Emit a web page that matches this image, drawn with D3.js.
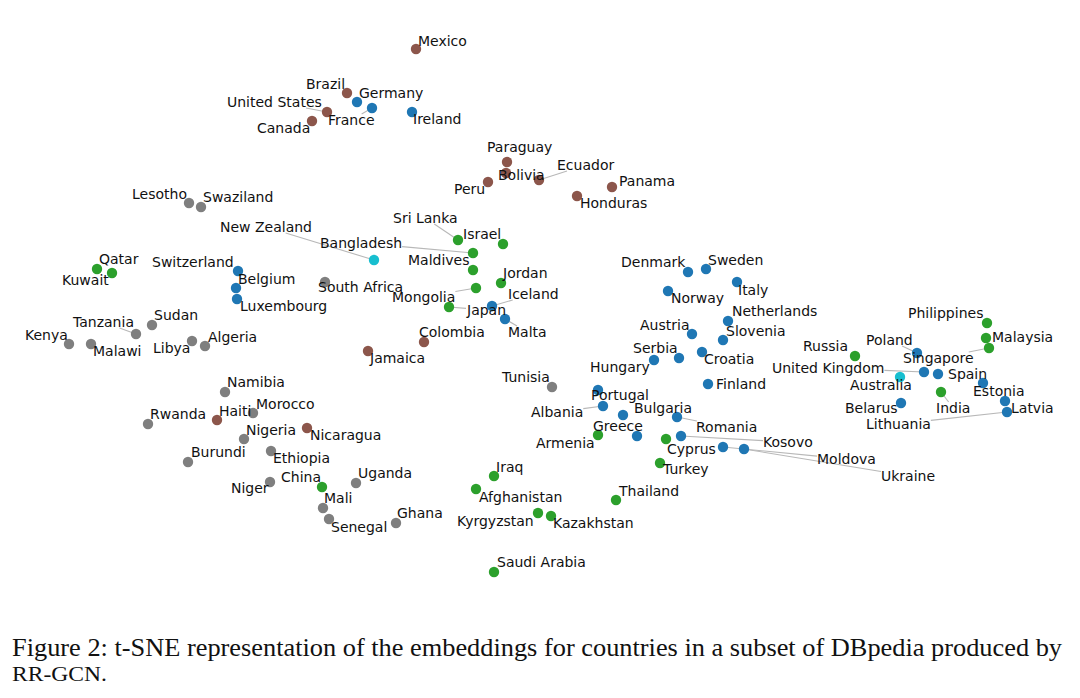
<!DOCTYPE html>
<html>
<head>
<meta charset="utf-8">
<script src="https://cdn.jsdelivr.net/npm/d3@7"></script>
<style>
  html, body { margin: 0; padding: 0; background: #fff; }
  svg { display: block; }
  .cap { font-family: "Liberation Serif", "Times New Roman", Times, serif; }
  .lbl { font-family: "DejaVu Sans", sans-serif; }
</style>
</head>
<body>
<svg id="chart" width="1080" height="698"></svg>
<script>
// ---- data: t-SNE embedding of countries ----
const countries = [
  // Americas
  "Mexico","Brazil","United States","Canada","Paraguay","Bolivia","Ecuador","Peru","Panama","Honduras","Colombia","Jamaica","Haiti","Nicaragua",
  // Europe
  "Germany","France","Ireland","Switzerland","Belgium","Luxembourg","Iceland","Malta","Denmark","Sweden","Norway","Italy","Netherlands","Austria","Slovenia","Serbia","Hungary","Croatia","Finland","Portugal","Albania","Bulgaria","Greece","Romania","Kosovo","Moldova","Ukraine","Poland","United Kingdom","Spain","Estonia","Latvia","Lithuania","Belarus",
  // Asia
  "Qatar","Kuwait","Sri Lanka","Israel","Bangladesh","Maldives","Jordan","Mongolia","Japan","China","Iraq","Afghanistan","Kyrgyzstan","Kazakhstan","Saudi Arabia","Thailand","Armenia","Cyprus","Turkey","Philippines","Malaysia","Singapore","Russia","India",
  // Africa
  "Lesotho","Swaziland","South Africa","Sudan","Tanzania","Kenya","Malawi","Libya","Algeria","Namibia","Morocco","Rwanda","Nigeria","Ethiopia","Burundi","Niger","Mali","Senegal","Uganda","Ghana","Tunisia",
  // Oceania
  "New Zealand","Australia"
];
const continents = [
  ...Array(14).fill("Americas"),
  ...Array(34).fill("Europe"),
  ...Array(24).fill("Asia"),
  ...Array(21).fill("Africa"),
  ...Array(2).fill("Oceania")
];
const tsneX = [
  416,347,327,312,507,506,539,488,612,577,424,368,217,307,
  357,372,412,238,236,237,492,505,688,706,668,737,728,692,723,679,654,702,708,598,603,623,637,677,681,723,744,917,924,938,983,1005,1007,901,
  112,97,458,503,473,473,501,476,449,322,494,476,538,551,494,616,598,666,660,987,986,989,855,941,
  189,201,325,152,136,69,91,192,205,225,253,148,244,271,188,270,323,329,356,396,552,
  374,900
];
const tsneY = [
  49,93,112,121,162,173,180,182,187,196,342,351,420,428,
  102,108,112,271,288,299,306,319,272,269,291,282,321,334,340,358,360,352,384,390,406,415,436,417,436,447,449,353,372,374,383,401,412,403,
  273,269,240,244,253,270,283,288,307,487,476,489,513,516,572,500,435,439,463,323,338,348,356,392,
  203,207,282,325,334,344,344,341,346,392,413,424,439,451,462,482,508,519,483,523,387,
  260,377
];
const captionLines = [
  "Figure 2: t-SNE representation of the embeddings for countries in a subset of DBpedia produced by",
  "RR-GCN."
];

// ---- layout (label placement relative to each point, as produced by label repulsion) ----
const labelOffsets = {
  "Mexico":[2,-3],"Brazil":[-41,-4],"United States":[-100,-5,1],"Canada":[-55,12],"Paraguay":[-20,-10],
  "Bolivia":[-8,7],"Ecuador":[18,-10,1],"Peru":[-34,12],"Panama":[7,-1],"Honduras":[3,12],
  "Colombia":[-5,-5],"Jamaica":[2,12],"Haiti":[2,-4],"Nicaragua":[3,12],
  "Germany":[2,-4],"France":[-44,17,1],"Ireland":[1,12],"Switzerland":[-86,-4],"Belgium":[2,-4],
  "Luxembourg":[3,12],"Iceland":[16,-7,1],"Malta":[3,18,1],"Denmark":[-67,-5],"Sweden":[2,-4],
  "Norway":[3,12],"Italy":[1,13],"Netherlands":[4,-5],"Austria":[-52,-4],"Slovenia":[3,-4],
  "Serbia":[-46,-5],"Hungary":[-64,12],"Croatia":[2,12],"Finland":[8,5],"Portugal":[-7,10],
  "Albania":[-72,11,1],"Bulgaria":[11,-2],"Greece":[-44,-5],"Romania":[19,15,1],"Kosovo":[82,11,1],
  "Moldova":[94,17,1],"Ukraine":[137,32,1],"Poland":[-51,-8,1],"United Kingdom":[-152,1,1],
  "Spain":[10,5],"Estonia":[-10,13],"Latvia":[6,12],"Lithuania":[-141,17,1],"Belarus":[-56,10],
  "Qatar":[-13,-9],"Kuwait":[-35,16],"Sri Lanka":[-65,-17,1],"Israel":[-40,-5],"Bangladesh":[-153,-5,1],
  "Maldives":[-65,-5],"Jordan":[2,-5],"Mongolia":[-84,14,1],"Japan":[18,8,1],"China":[-41,-5],
  "Iraq":[2,-4],"Afghanistan":[3,13],"Kyrgyzstan":[-81,13],"Kazakhstan":[2,12],"Saudi Arabia":[3,-5],
  "Thailand":[3,-4],"Armenia":[-62,13],"Cyprus":[1,15],"Turkey":[3,11],"Philippines":[-79,-5],
  "Malaysia":[6,4],"Singapore":[-86,15,1],"Russia":[-52,-5],"India":[-5,21,1],
  "Lesotho":[-57,-4],"Swaziland":[2,-5],"South Africa":[-7,10,1],"Sudan":[2,-5],"Tanzania":[-63,-7,1],
  "Kenya":[-44,-4],"Malawi":[2,12],"Libya":[-39,12],"Algeria":[3,-4],"Namibia":[2,-5],"Morocco":[3,-4],
  "Rwanda":[2,-5],"Nigeria":[2,-4],"Ethiopia":[2,12],"Burundi":[3,-5],"Niger":[-39,11],"Mali":[1,-5],
  "Senegal":[2,13],"Uganda":[2,-5],"Ghana":[1,-5],"Tunisia":[-50,-5],
  "New Zealand":[-154,-28,1],"Australia":[-50,13]
};
const colorScale = d3.scaleOrdinal()
  .domain(["Europe","Asia","Africa","Americas","Oceania"])
  .range(["#1f77b4","#2ca02c","#7f7f7f","#8c564b","#17becf"]);

const W = 1080, H = 698;
const x = d3.scaleLinear().domain([0, 1080]).range([0, W]);
const y = d3.scaleLinear().domain([0, 698]).range([0, H]);

const data = countries.map((name, i) => ({
  name, cont: continents[i], x: tsneX[i], y: tsneY[i],
  off: labelOffsets[name] || [4, -4]
}));

const svg = d3.select("#chart");
svg.append("rect").attr("width", W).attr("height", H).attr("fill", "#fff");

const gLines = svg.append("g");
const gDots = svg.append("g");
const gText = svg.append("g");

gDots.selectAll("circle").data(data).join("circle")
  .attr("cx", d => x(d.x)).attr("cy", d => y(d.y)).attr("r", 5.2)
  .attr("fill", d => colorScale(d.cont));

const texts = gText.selectAll("text").data(data).join("text")
  .attr("class", "lbl")
  .attr("x", d => x(d.x) + d.off[0])
  .attr("y", d => y(d.y) + d.off[1])
  .attr("font-size", 14)
  .attr("fill", "#111")
  .text(d => d.name);

// leader lines from label box edge toward the point
texts.each(function(d) {
  if (!d.off[2]) return;
  const b = this.getBBox();
  const cx = b.x + b.width / 2, cy = b.y + b.height / 2;
  const px = x(d.x), py = y(d.y);
  const dx = px - cx, dy = py - cy;
  let t = 1;
  if (dx !== 0) t = Math.min(t, (b.width / 2) / Math.abs(dx));
  if (dy !== 0) t = Math.min(t, (b.height / 2 - 2) / Math.abs(dy));
  const sx = cx + dx * t, sy = cy + dy * t;
  gLines.append("line")
    .attr("x1", sx).attr("y1", sy).attr("x2", px).attr("y2", py)
    .attr("stroke", "#b8b8b8").attr("stroke-width", 1.1);
});

// caption
svg.append("text")
  .attr("class", "cap")
  .attr("x", 12).attr("y", 656)
  .attr("font-size", 26)
  .attr("textLength", 1050).attr("lengthAdjust", "spacingAndGlyphs")
  .attr("fill", "#111")
  .text(captionLines[0]);
svg.append("text")
  .attr("class", "cap")
  .attr("x", 12).attr("y", 681)
  .attr("font-size", 21)
  .attr("textLength", 95).attr("lengthAdjust", "spacingAndGlyphs")
  .attr("fill", "#111")
  .text(captionLines[1]);
</script>
</body>
</html>
